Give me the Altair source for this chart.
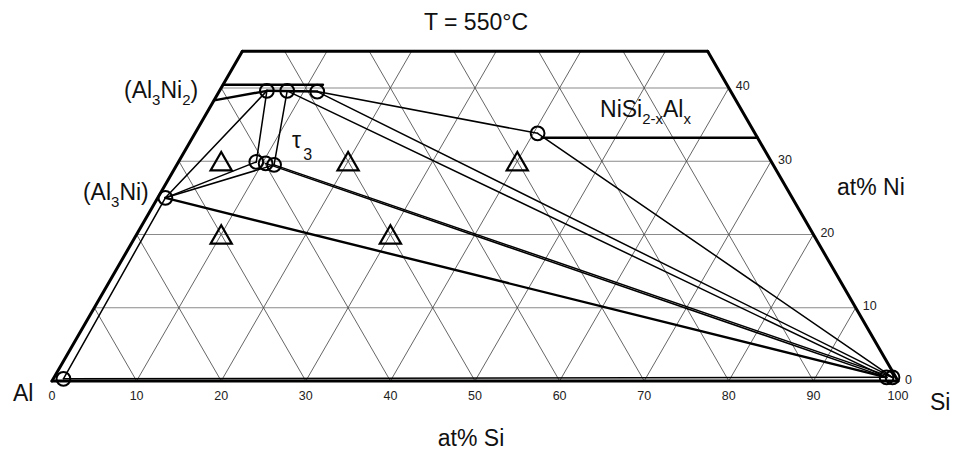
import math
import altair as alt
import pandas as pd

# ---------------- data ----------------
si_ticks = [0, 10, 20, 30, 40, 50, 60, 70, 80, 90, 100]
ni_ticks = [0, 10, 20, 30, 40]
grid_levels = [10, 20, 30, 40, 50, 60, 70, 80, 90]
ni_grid = [10, 20, 30, 40]
ni_top = 45

phase_names = ["Al", "Al3Ni", "A2a", "A2b", "A2c", "T1", "T2", "T3", "NiSi2x", "SiA", "SiB"]
phase_si = [1.2, 0.9, 5.6, 8.0, 11.6, 9.2, 10.4, 11.5, 40.5, 98.4, 99.1]
phase_ni = [0.3, 25.0, 39.6, 39.6, 39.5, 29.9, 29.7, 29.5, 33.8, 0.5, 0.5]

tie_from = ["Al", "Al", "Al3Ni", "Al3Ni", "Al3Ni", "A2a", "A2b", "A2c", "A2b", "A2c", "T2", "T3", "NiSi2x"]
tie_to = ["SiA", "Al3Ni", "A2a", "T1", "T3", "T1", "T3", "NiSi2x", "SiA", "SiB", "SiA", "SiB", "SiB"]
heavy_tie_from = ["Al3Ni"]
heavy_tie_to = ["SiA"]

# single-phase boundaries: (Si1, Ni1) -> (Si2, Ni2)
boundary_si1 = [0.0, 0.0, 5.6, 41.3]
boundary_ni1 = [40.45, 38.3, 39.6, 33.2]
boundary_si2 = [11.8, 5.6, 11.6, 66.8]
boundary_ni2 = [40.45, 39.6, 39.5, 33.2]

sample_si = [5, 20, 40, 10, 30]
sample_ni = [30, 30, 30, 20, 20]

# ---------------- geometry helpers ----------------
S3 = math.sqrt(3) / 2


def cart(si, ni):
    return si + ni / 2.0, ni * S3


K = 8.46          # px per at% along the base
X0_PX, Y0_PX = 52, 381
W, H = 955, 452
xs = alt.Scale(domain=[-X0_PX / K, (W - X0_PX) / K], nice=False, zero=False)
ys = alt.Scale(domain=[-(H - Y0_PX) / K, Y0_PX / K], nice=False, zero=False)
FONT = "Liberation Sans"


def seg_df(pairs):
    rows = []
    for (s1, n1), (s2, n2) in pairs:
        x1, y1 = cart(s1, n1)
        x2, y2 = cart(s2, n2)
        rows.append({"x1": x1, "y1": y1, "x2": x2, "y2": y2})
    return pd.DataFrame(rows)


def rules(df, color, width):
    return alt.Chart(df).mark_rule(color=color, strokeWidth=width, strokeCap="round").encode(
        x=alt.X("x1:Q", scale=xs, axis=None),
        y=alt.Y("y1:Q", scale=ys, axis=None),
        x2="x2:Q",
        y2="y2:Q",
    )


P = {n: (s, v) for n, s, v in zip(phase_names, phase_si, phase_ni)}

# grid
h_grid = seg_df([((0, n), (100 - n, n)) for n in ni_grid])
d_grid_pairs = []
for s in grid_levels:
    ne = min(ni_top, 100 - s)
    d_grid_pairs.append(((s, 0), (s, ne)))
for a in grid_levels:
    c = 100 - a
    ne = min(ni_top, c)
    d_grid_pairs.append(((c, 0), (c - ne, ne)))
d_grid = seg_df(d_grid_pairs)

ties = seg_df([(P[a], P[b]) for a, b in zip(tie_from, tie_to)])
heavy = seg_df([(P[a], P[b]) for a, b in zip(heavy_tie_from, heavy_tie_to)])
bounds = seg_df([((a, b), (c, d)) for a, b, c, d in zip(boundary_si1, boundary_ni1, boundary_si2, boundary_ni2)])
outer = seg_df([((0, 0), (100, 0)), ((0, 0), (0, ni_top)), ((0, ni_top), (100 - ni_top, ni_top)),
                ((100, 0), (100 - ni_top, ni_top))])

pts = pd.DataFrame([dict(zip(["x", "y"], cart(s, n))) for s, n in zip(phase_si, phase_ni)])
smp = pd.DataFrame([dict(zip(["x", "y"], cart(s, n))) for s, n in zip(sample_si, sample_ni)])

circles = alt.Chart(pts).mark_point(shape="circle", filled=False, stroke="black", strokeWidth=2,
                                    size=190, opacity=1).encode(
    x=alt.X("x:Q", scale=xs, axis=None), y=alt.Y("y:Q", scale=ys, axis=None))
triangles = alt.Chart(smp).mark_point(shape="triangle-up", filled=False, stroke="black", strokeWidth=2.2,
                                      size=450, opacity=1).encode(
    x=alt.X("x:Q", scale=xs, axis=None), y=alt.Y("y:Q", scale=ys, axis=None))

# tick labels
bt = pd.DataFrame([{"x": cart(s, 0)[0], "y": 0.0, "t": str(s)} for s in si_ticks])
rt = pd.DataFrame([{"x": cart(100 - n, n)[0], "y": cart(100 - n, n)[1], "t": str(n)} for n in ni_ticks])
bottom_ticks = alt.Chart(bt).mark_text(font=FONT, fontSize=12.5, dy=19, align="center", baseline="alphabetic",
                                       color="#222").encode(
    x=alt.X("x:Q", scale=xs, axis=None), y=alt.Y("y:Q", scale=ys, axis=None), text="t:N")
right_ticks = alt.Chart(rt).mark_text(font=FONT, fontSize=12.5, dx=7, dy=2.5, align="left", baseline="alphabetic",
                                      color="#222").encode(
    x=alt.X("x:Q", scale=xs, axis=None), y=alt.Y("y:Q", scale=ys, axis=None), text="t:N")

# titles / labels (anchor in plot units, left or centre of baseline)
plain_text = ["T = 550°C", "at% Si", "at% Ni", "Al", "Si"]
plain_x = [50.12, 49.53, 92.79, -4.61, 103.78]
plain_y = [41.49, -7.68, 21.99, -2.36, -3.43]
plain_align = ["center", "center", "left", "left", "left"]

WID = {"(": 0.333, ")": 0.333, "A": 0.667, "l": 0.222, "N": 0.722, "i": 0.222, "S": 0.667,
       "2": 0.556, "3": 0.556, "-": 0.333, "x": 0.5, "τ": 0.44}

phase_label_parts = [
    [("(Al", 0), ("3", 1), ("Ni", 0), ("2", 1), (")", 0)],
    [("(Al", 0), ("3", 1), ("Ni", 0), (")", 0)],
    [("NiSi", 0), ("2-x", 1), ("Al", 0), ("x", 1)],
    [("τ", 0), ("3", 2)],
]
phase_label_x = [8.51, 3.66, 64.78, 28.37]
phase_label_y = [33.45, 21.39, 31.21, 27.54]

MAIN_FS, SUB_FS, TAU_SUB_FS = 23, 15, 16
rows = []
for parts, ax, ay in zip(phase_label_parts, phase_label_x, phase_label_y):
    off = 0.0
    for txt, lvl in parts:
        fs = MAIN_FS if lvl == 0 else (SUB_FS if lvl == 1 else TAU_SUB_FS)
        drop = 0 if lvl == 0 else (7 if lvl == 1 else 12)
        rows.append({"x": ax + off / K, "y": ay - drop / K, "t": txt, "fs": fs})
        off += sum(WID.get(c, 0.55) for c in txt) * fs + (1 if txt == "τ" else 0)
lab = pd.DataFrame(rows)
phase_labels = alt.Chart(lab).mark_text(font=FONT, align="left", baseline="alphabetic", color="#111").encode(
    x=alt.X("x:Q", scale=xs, axis=None), y=alt.Y("y:Q", scale=ys, axis=None), text="t:N",
    size=alt.Size("fs:Q", scale=None, legend=None))

pl = pd.DataFrame({"x": plain_x, "y": plain_y, "t": plain_text, "a": plain_align})
plain_c = alt.Chart(pl[pl.a == "center"]).mark_text(font=FONT, fontSize=23, align="center",
                                                    baseline="alphabetic", color="#111").encode(
    x=alt.X("x:Q", scale=xs, axis=None), y=alt.Y("y:Q", scale=ys, axis=None), text="t:N")
plain_l = alt.Chart(pl[pl.a == "left"]).mark_text(font=FONT, fontSize=23, align="left",
                                                  baseline="alphabetic", color="#111").encode(
    x=alt.X("x:Q", scale=xs, axis=None), y=alt.Y("y:Q", scale=ys, axis=None), text="t:N")

chart = alt.layer(
    rules(h_grid, "#8a8a8a", 1.1),
    rules(d_grid, "#4a4a4a", 0.85),
    rules(ties, "black", 1.5),
    rules(heavy, "black", 2.4),
    rules(bounds, "black", 2.5),
    rules(outer, "black", 3),
    circles, triangles, bottom_ticks, right_ticks, phase_labels, plain_c, plain_l,
).properties(
    width=W, height=H, autosize=alt.AutoSizeParams(type="none"), padding=0, background="white"
).configure_view(stroke=None)

chart.save("out.html", embed_options={"renderer": "svg", "actions": False})
